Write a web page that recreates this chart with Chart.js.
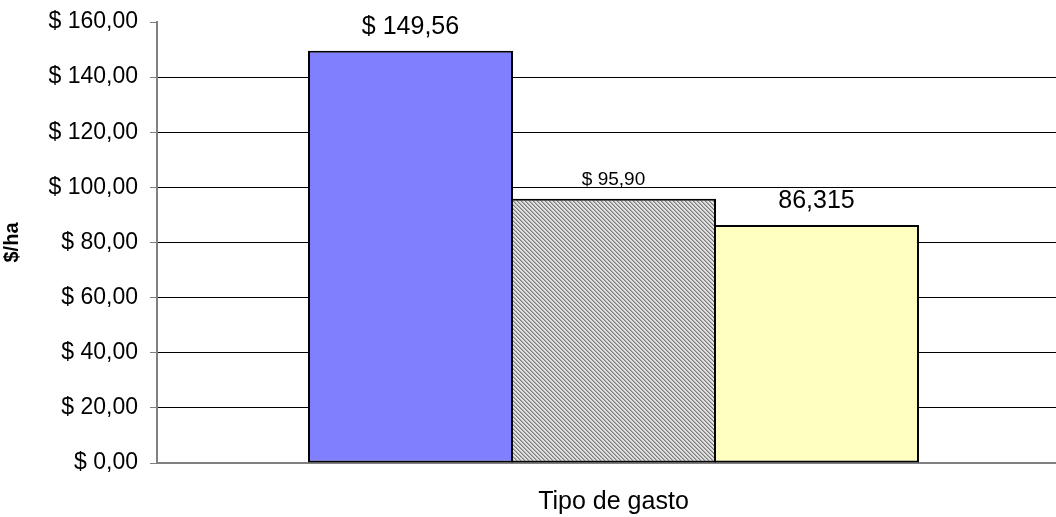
<!DOCTYPE html>
<html>
<head>
<meta charset="utf-8">
<script src="https://cdn.jsdelivr.net/npm/chart.js@4.4.0/dist/chart.umd.min.js"></script>
<style>
  body { margin: 0; background: #fff; overflow: hidden; }
  #clip { width: 1056px; height: 517px; overflow: hidden; }
  #wrap { width: 1070px; height: 517px; }
</style>
</head>
<body>
<div id="clip"><div id="wrap"><canvas id="myChart"></canvas></div></div>
<script>
const categories = [''];
const seriesNames = ['Gasto 1', 'Gasto 2', 'Gasto 3'];
const seriesValues = [149.56, 95.90, 86.315];
const valueLabels = ['$ 149,56', '$ 95,90', '86,315'];
const labelSizes = [25, 19, 25];

// diagonal hatch for the middle bar
function hatch() {
  var c = document.createElement('canvas');
  c.width = 4; c.height = 4;
  var g = c.getContext('2d');
  g.fillStyle = '#e2e2e2';
  g.fillRect(0, 0, 4, 4);
  for (var i = 0; i < 4; i++) {
    g.fillStyle = '#7c7c7c';
    g.fillRect(i, i, 1, 1);
    g.fillStyle = '#adadad';
    g.fillRect((i + 1) % 4, i, 1, 1);
  }
  return g.createPattern(c, 'repeat');
}

var canvas = document.getElementById('myChart').getContext('2d');
var colors = ['#8080ff', hatch(), '#ffffc0'];
const FONT = '"Liberation Sans", Arial, sans-serif';

var data = {
  labels: categories,
  datasets: seriesNames.map(function (n, i) {
    return {
      label: n,
      data: [seriesValues[i]],
      backgroundColor: colors[i],
      borderColor: '#000',
      borderWidth: 2,
      borderSkipped: false,
      // tiny overlap so neighbouring bars share one 2px edge
      barPercentage: 1.01,
      categoryPercentage: 0.667,
    };
  }),
};

var valueLabelPlugin = {
  id: 'valueLabels',
  afterDatasetsDraw: function (chart) {
    var ctx = chart.ctx;
    ctx.save();
    ctx.fillStyle = '#000';
    ctx.textAlign = 'center';
    ctx.textBaseline = 'alphabetic';
    chart.data.datasets.forEach(function (ds, i) {
      var bar = chart.getDatasetMeta(i).data[0];
      ctx.font = labelSizes[i] + 'px ' + FONT;
      ctx.fillText(valueLabels[i], bar.x, bar.y - (i === 1 ? 14 : 17));
    });
    ctx.restore();
  }
};

var option = {
  responsive: true,
  maintainAspectRatio: false,
  animation: false,
  layout: { padding: { top: 22, right: 0, left: 0, bottom: 0 } },
  plugins: { legend: { display: false }, tooltip: { enabled: false } },
  scales: {
    x: {
      grid: { display: false },
      border: { color: '#808080', width: 2 },
      ticks: { display: false },
      title: {
        display: true,
        text: 'Tipo de gasto',
        color: '#000',
        font: { family: FONT, size: 25 },
        padding: { top: 0, bottom: 0 }
      },
      afterFit: function (s) { s.height = 54; }
    },
    y: {
      min: 0,
      max: 160,
      ticks: {
        stepSize: 20,
        color: '#000',
        padding: 12,
        font: { family: FONT, size: 23 },
        callback: function (v) { return '$ ' + v.toFixed(2).replace('.', ','); }
      },
      grid: {
        color: function (c) { return (c.tick && (c.tick.value === 160 || c.tick.value === 0)) ? 'rgba(0,0,0,0)' : '#000'; },
        tickColor: '#808080',
        tickLength: 7,
        lineWidth: 1
      },
      border: { color: '#808080', width: 2 },
      title: {
        display: true,
        text: '$/ha',
        color: '#000',
        font: { family: FONT, size: 20, weight: 'bold' },
        padding: { top: 0, bottom: 0 }
      },
      afterFit: function (s) { s.width = 157; s.paddingTop = 0; s.paddingBottom = 0; }
    }
  }
};

var myChart = new Chart(canvas, { type: 'bar', data: data, options: option, plugins: [valueLabelPlugin] });
</script>
</body>
</html>
